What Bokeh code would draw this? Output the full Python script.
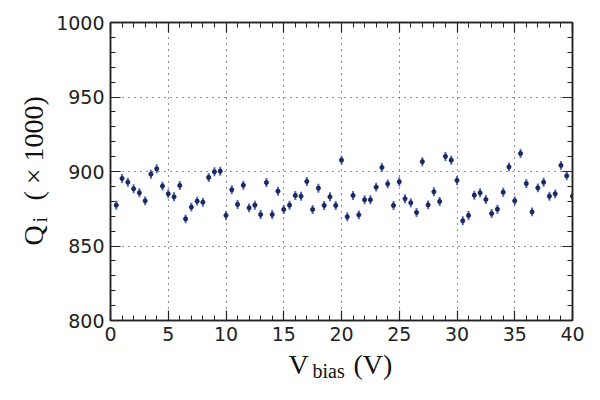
import numpy as np
from bokeh.plotting import figure
from bokeh.layouts import row, column
from bokeh.models import (Range1d, SingleIntervalTicker, LinearAxis,
                          ColumnDataSource)
from bokeh.core.properties import value
from bokeh.embed import file_html
from bokeh.resources import INLINE

# ---- data ----
v_bias = [0.5, 1.0, 1.5, 2.0, 2.5, 3.0, 3.5, 4.0, 4.5, 5.0,
          5.5, 6.0, 6.5, 7.0, 7.5, 8.0, 8.5, 9.0, 9.5, 10.0,
          10.5, 11.0, 11.5, 12.0, 12.5, 13.0, 13.5, 14.0, 14.5, 15.0,
          15.5, 16.0, 16.5, 17.0, 17.5, 18.0, 18.5, 19.0, 19.5, 20.0,
          20.5, 21.0, 21.5, 22.0, 22.5, 23.0, 23.5, 24.0, 24.5, 25.0,
          25.5, 26.0, 26.5, 27.0, 27.5, 28.0, 28.5, 29.0, 29.5, 30.0,
          30.5, 31.0, 31.5, 32.0, 32.5, 33.0, 33.5, 34.0, 34.5, 35.0,
          35.5, 36.0, 36.5, 37.0, 37.5, 38.0, 38.5, 39.0, 39.5, 40.0]
q_i = [877.4, 895.3, 892.8, 888.4, 885.7, 880.3, 898.2, 901.8, 890.2, 885.0,
       883.0, 890.6, 868.2, 876.1, 880.1, 879.4, 896.0, 899.8, 900.2, 870.5,
       887.7, 877.9, 890.8, 875.6, 877.4, 871.1, 892.6, 871.1, 886.8, 874.5,
       877.4, 883.9, 883.4, 893.3, 874.5, 888.8, 877.2, 883.0, 877.2, 907.6,
       869.6, 883.9, 870.9, 881.0, 881.0, 889.5, 902.7, 891.7, 877.2, 893.1,
       881.7, 879.0, 872.5, 906.6, 877.6, 886.4, 879.9, 910.1, 907.6, 894.0,
       866.9, 870.5, 884.1, 885.7, 881.2, 871.8, 874.7, 886.1, 903.1, 880.3,
       912.1, 891.9, 872.9, 889.0, 892.8, 883.4, 885.0, 904.1, 897.1, 883.4]
q_err = 3.0  # half-length of the error bars (x1000)

x_label_parts = ["V", "bias", "(V)"]
y_label_parts = ["Q", "i", "( × 1000)"]

x_ticks_major = 5
y_ticks_major = 50

q = np.array(q_i)
src = ColumnDataSource(dict(x=v_bias, y=q_i, lo=list(q - q_err), hi=list(q + q_err)))

# ---------------- layout geometry (pixels) ----------------
YLAB_W = 50
MAIN_W = 542
MAIN_H = 349
XLAB_H = 43
TOTAL_H = MAIN_H + XLAB_H
FRAME_L, FRAME_R = 110, 572   # frame edges in page pixels (strip below aligns to them)

p = figure(width=MAIN_W, height=MAIN_H, output_backend="svg", toolbar_location=None,
           x_range=Range1d(0, 40), y_range=Range1d(800, 1000),
           min_border_left=60, min_border_right=20, min_border_top=22,
           min_border_bottom=29)
p.background_fill_color = "white"
p.border_fill_color = "white"
p.outline_line_color = "#222222"
p.outline_line_width = 1.5

p.segment(x0="x", y0="lo", x1="x", y1="hi", source=src,
          line_color="#3d62d0", line_width=2.0, line_alpha=0.95)
p.scatter(x="x", y="y", source=src, size=4.2, fill_color="#1e2b5e",
          line_color="#131c42", line_width=0.8)

xt = SingleIntervalTicker(interval=x_ticks_major, num_minor_ticks=5)
yt = SingleIntervalTicker(interval=y_ticks_major, num_minor_ticks=5)


def style_axis(ax, show_labels=True):
    ax.axis_line_color = "#222222"
    ax.axis_line_width = 1.5
    ax.major_tick_in = 10
    ax.major_tick_out = 0
    ax.minor_tick_in = 5
    ax.minor_tick_out = 0
    ax.major_tick_line_color = "#222222"
    ax.minor_tick_line_color = "#222222"
    ax.major_tick_line_width = 1.2
    ax.minor_tick_line_width = 1.0
    ax.major_label_text_font = "DejaVu Sans"
    ax.major_label_text_color = "#222222"
    if show_labels:
        ax.major_label_text_font_size = "19px"
        ax.major_label_standoff = 6
    else:
        ax.major_label_text_font_size = "0px"
        ax.major_label_text_color = None
        ax.major_label_standoff = 0
        ax.axis_label_standoff = 0


p.xaxis.ticker = xt
p.yaxis.ticker = yt
style_axis(p.xaxis[0])
style_axis(p.yaxis[0])

top = LinearAxis(ticker=xt)
right = LinearAxis(ticker=yt)
style_axis(top, False)
style_axis(right, False)
p.add_layout(top, "above")
p.add_layout(right, "right")

p.xgrid.ticker = xt
p.ygrid.ticker = yt
for g in (p.xgrid[0], p.ygrid[0]):
    g.grid_line_color = "black"
    g.grid_line_alpha = 0.85
    g.grid_line_dash = "1 5"
    g.grid_line_width = 1.1


def text_strip(w, h, x0, x1):
    f = figure(width=w, height=h, output_backend="svg", toolbar_location=None,
               x_range=Range1d(x0, x1), y_range=Range1d(0, h),
               min_border=0, x_axis_location=None, y_axis_location=None)
    f.min_border_left = f.min_border_right = 0
    f.min_border_top = f.min_border_bottom = 0
    f.outline_line_color = None
    f.grid.visible = False
    f.background_fill_color = "white"
    f.border_fill_color = "white"
    return f


serif = "Liberation Serif"
lab_col = "#111111"

# vertical title: anchors in page px (renderer puts glyphs ~0.36 em beyond anchor)
yfig = text_strip(YLAB_W, TOTAL_H, 0, YLAB_W)
for txt, px, py, fs in zip(y_label_parts, [33, 39, 33], [245, 222, 200],
                           ["28px", "20px", "28px"]):
    yfig.text(x=[px], y=[TOTAL_H - py], text=[txt], angle=np.pi / 2,
              text_font=value(serif), text_font_size=value(fs),
              text_color=lab_col, text_align="left",
              text_baseline="alphabetic")

# horizontal title strip (its frame is aligned with the main frame)
xfig = text_strip(MAIN_W, XLAB_H, FRAME_L, FRAME_R)
for txt, px, py, fs in zip(x_label_parts, [288, 312, 353], [364, 370, 364],
                           ["28px", "20px", "28px"]):
    xfig.text(x=[px], y=[TOTAL_H - py], text=[txt],
              text_font=value(serif), text_font_size=value(fs),
              text_color=lab_col, text_align="left",
              text_baseline="alphabetic")

layout = row(yfig, column(p, xfig, spacing=0), spacing=0)
open("out.html", "w").write(file_html(layout, INLINE))
